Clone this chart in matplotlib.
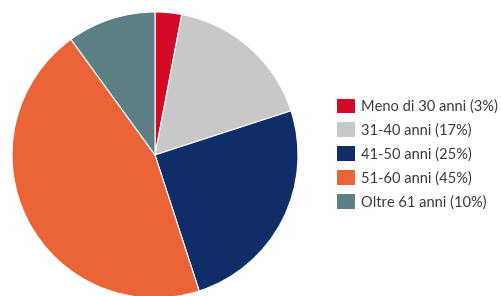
import matplotlib.pyplot as plt
from matplotlib.patches import Patch

labels = ['Meno di 30 anni (3%)', '31-40 anni (17%)', '41-50 anni (25%)',
          '51-60 anni (45%)', 'Oltre 61 anni (10%)']
values = [3, 17, 25, 45, 10]
colors = ['#D20A26', '#C8C8C8', '#0F2D69', '#EB6437', '#5F7F87']

plt.rcParams['font.family'] = ['Lato', 'DejaVu Sans']

fig = plt.figure(figsize=(5.02, 2.96), dpi=100)
W, H = 502, 296
cx, cy, r = 155, 141, 143
ax = fig.add_axes([(cx - r) / W, (cy - r) / H, 2 * r / W, 2 * r / H])
ax.pie(values, colors=colors, startangle=90, counterclock=False,
       wedgeprops=dict(edgecolor='white', linewidth=0.8))
ax.set_xlim(-1, 1)
ax.set_ylim(-1, 1)
ax.set_aspect('equal')
ax.axis('off')

handles = [Patch(facecolor=c, edgecolor='none') for c in colors]
fig.legend(handles, labels, loc='center left', bbox_to_anchor=(324 / W, 1 - 154 / H),
           frameon=False, fontsize=10.5, handlelength=1.2, handleheight=1.15,
           handletextpad=0.45, labelspacing=0.6, labelcolor='#3a3a3a')

fig.savefig('out.png', dpi=100)
